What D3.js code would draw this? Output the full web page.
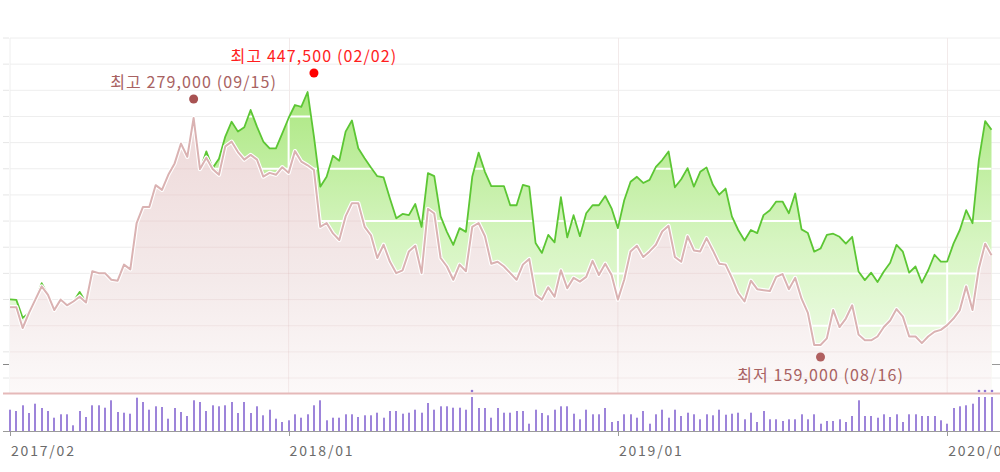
<!DOCTYPE html>
<html><head><meta charset="utf-8">
<script src="https://cdn.jsdelivr.net/npm/d3@7"></script>
<style>body{margin:0;background:#fff;overflow:hidden} svg{display:block}</style>
</head><body>
<svg id="c" width="1000" height="472"></svg>
<script>
// ---- data (weekly) ----
const pinkPrice = [179000,179000,168000,176000,183000,190000,185500,177500,183000,180000,
182000,184500,181500,198000,197000,197000,193500,193000,201500,199000,
223500,232000,232000,243500,241000,249000,255000,265500,258500,279000,
252000,258000,252000,249000,264000,266500,261000,257000,259500,257000,
248000,250000,249000,253000,250000,261500,256000,254000,251500,221500,
223500,218000,214500,227000,234000,234000,221500,217000,205000,212000,
203000,197000,198500,208500,211500,197000,231000,228500,205000,200500,
193500,201500,198000,221500,223500,216500,202000,203000,200500,197000,
193500,201500,204500,185500,183000,189500,184500,198500,189000,194500,
192500,195000,203500,196000,202000,196000,183000,193500,208500,211500,
205500,208500,212000,219000,222000,205500,203000,216500,209000,208500,
215500,209000,202000,201500,194500,186500,182000,193000,188500,188000,
187500,195000,196500,188500,194500,183500,176000,159000,159000,162500,
177500,168500,173000,180000,164500,161500,161500,163500,168500,172000,
178000,174000,163500,163500,160000,163500,166000,167000,169500,173000,
177500,190000,177500,199500,212500,206500];

const greenPrice = [280000,279500,265000,269000,279500,293000,283500,271500,279500,275000,
278000,286000,277500,302500,301000,301000,296000,295000,308000,304000,
341500,354500,354500,372000,368500,380500,390000,406000,395000,426500,
384500,399500,386000,393500,411500,423500,415500,419000,433000,419500,
407500,402000,402000,414000,426500,437000,435500,447500,411500,371000,
379000,396000,392000,415500,424500,402000,394000,386500,379500,378500,
361500,345500,349000,348000,357000,338500,382000,379500,347000,334500,
324000,337500,334500,379000,398500,383000,371500,371500,371500,356000,
356000,372500,371000,325500,317500,332000,326000,362500,330000,348000,
331000,349500,356000,356000,363500,353500,337500,360000,375000,379000,
374000,376500,387000,392500,399500,370500,377000,386000,371000,383000,
386500,372500,364500,369500,347000,336000,327500,336000,333500,348000,
352000,359000,359000,349500,365500,336500,333500,318500,321000,332000,
333000,330500,325000,330500,302500,295500,301500,294000,302500,309500,
324000,318500,301500,306500,293500,303500,316000,310500,310500,325000,
336000,352000,341500,392500,424000,417000];

const volume = [21300,20000,25700,18000,27300,23000,20000,13300,16700,16700,
5700,20000,14000,25700,25700,23300,30700,19000,18300,17300,
33300,29000,21300,24700,24000,12300,23000,19000,15000,30700,
29000,20000,25700,24700,25700,29000,18000,29000,18000,24700,
15700,21300,12300,9000,10700,16700,13300,16700,25700,30700,
10700,13300,13300,16700,16700,14000,15700,15700,18300,13300,
20000,20000,17300,18300,21300,18300,28000,21300,24700,24700,
23300,23300,21300,47000,23000,23000,13300,23000,18300,18300,
20000,20000,7300,21300,18000,15700,21300,24700,24700,17300,
11700,21300,16700,16700,23000,9000,10000,16700,16700,13300,
20000,7300,16700,21300,13300,21300,15000,18300,16700,11700,
16700,15700,21300,16300,17300,18300,11700,18300,9000,20000,
11700,11700,10000,11700,11700,16700,11700,16700,7300,10000,
10000,11700,9000,15000,30700,15000,15000,13300,16700,14000,
16700,9000,16700,16700,15000,15000,15000,10700,7300,23000,
24700,25700,27300,52000,58000,55000];

const tickLabels = ['2017/02','2018/01','2019/01','2020/01'];
const tickIndex = [0,44,96,148];

const annotations = [
  {series:'green', idx:48, value:447500, text:'최고 447,500 (02/02)', place:'above', color:'#ff1e1e', dot:'#ff0000'},
  {series:'pink',  idx:29, value:279000, text:'최고 279,000 (09/15)', place:'above', color:'#a86262', dot:'#a85252'},
  {series:'pink',  idx:128, value:159000, text:'최저 159,000 (08/16)', place:'below', color:'#a86262', dot:'#b06060'}
];

(function(){
const svg = d3.select('#c');
const n = pinkPrice.length;
const pTop = 38, pBottom = 393, left = 10, right = 991.5;
const x = d3.scaleLinear().domain([0, n-1]).range([left, right]);
const yPink = d3.scaleLinear().domain([133640, 321300]).range([pBottom, pTop]);
const yGreen = d3.scaleLinear().domain([204280, 491150]).range([pBottom, pTop]);
const volTop = 397, volBase = 431, volMax = 34000;
const yVol = d3.scaleLinear().domain([0, volMax]).range([volBase, volTop]).clamp(true);

const defs = svg.append('defs');
const gg = defs.append('linearGradient').attr('id','gGreen').attr('gradientUnits','userSpaceOnUse')
  .attr('x1',0).attr('x2',0).attr('y1',90).attr('y2',pBottom);
gg.append('stop').attr('offset',0).attr('stop-color','#abe780');
gg.append('stop').attr('offset',0.5).attr('stop-color','#d6f5c1');
gg.append('stop').attr('offset',1).attr('stop-color','#f6fdf2');
const gp = defs.append('linearGradient').attr('id','gPink').attr('gradientUnits','userSpaceOnUse')
  .attr('x1',0).attr('x2',0).attr('y1',110).attr('y2',pBottom);
gp.append('stop').attr('offset',0).attr('stop-color','#eed8d8');
gp.append('stop').attr('offset',0.6).attr('stop-color','#f4eaea');
gp.append('stop').attr('offset',1).attr('stop-color','#fcf9f9');

const idx = d3.range(n);
const areaG = d3.area().x(i=>x(i)).y0(pBottom).y1(i=>yGreen(greenPrice[i]));
const lineG = d3.line().x(i=>x(i)).y(i=>yGreen(greenPrice[i]));
const areaP = d3.area().x(i=>x(i)).y0(pBottom).y1(i=>yPink(pinkPrice[i]));
const lineP = d3.line().x(i=>x(i)).y(i=>yPink(pinkPrice[i]));

defs.append('clipPath').attr('id','clipG').append('path').attr('d', areaG(idx));
defs.append('clipPath').attr('id','clipP').append('path').attr('d', areaP(idx));

const gridN = 14, gridStep = (378 - pTop) / (gridN - 1);
const gridY = d3.range(gridN).map(k => pTop + k*gridStep);

svg.append('g').selectAll('line').data(gridY).join('line')
  .attr('x1', left).attr('x2', 1000).attr('y1', d=>d).attr('y2', d=>d)
  .attr('stroke', '#eeeeee').attr('stroke-width', 1);
svg.append('line').attr('x1', left).attr('x2', left).attr('y1', pTop).attr('y2', pBottom)
  .attr('stroke', '#eeeeee');
svg.append('g').selectAll('line').data(tickIndex.slice(1)).join('line')
  .attr('x1', d=>Math.round(x(d))+0.5).attr('x2', d=>Math.round(x(d))+0.5).attr('y1', pTop).attr('y2', pBottom)
  .attr('stroke', '#f2eaea');
svg.append('g').selectAll('line').data(gridY).join('line')
  .attr('x1', 3).attr('x2', 9).attr('y1', d=>d).attr('y2', d=>d)
  .attr('stroke', '#e6e6e6');

svg.append('path').attr('d', areaG(idx)).attr('fill', 'url(#gGreen)');
const wg = svg.append('g').attr('clip-path','url(#clipG)');
wg.selectAll('line.h').data(gridY.filter((d,k)=>k%2===1)).join('line')
  .attr('x1', left).attr('x2', 1000).attr('y1', d=>d).attr('y2', d=>d)
  .attr('stroke', '#ffffff').attr('stroke-width', 2);
wg.selectAll('line.v').data(tickIndex.slice(1)).join('line')
  .attr('x1', d=>x(d)).attr('x2', d=>x(d)).attr('y1', pTop).attr('y2', pBottom)
  .attr('stroke', '#ffffff').attr('stroke-width', 2);
svg.append('path').attr('d', lineG(idx)).attr('fill','none')
  .attr('stroke', '#5cc634').attr('stroke-width', 1.8).attr('stroke-linejoin','round');

svg.append('path').attr('d', areaP(idx)).attr('fill', 'url(#gPink)');
const pg = svg.append('g').attr('clip-path','url(#clipP)');
pg.selectAll('line').data(gridY).join('line')
  .attr('x1', left).attr('x2', 1000).attr('y1', d=>d).attr('y2', d=>d)
  .attr('stroke', 'rgba(205,160,160,0.16)');
pg.selectAll('line.v').data(tickIndex.slice(1)).join('line')
  .attr('x1', d=>x(d)).attr('x2', d=>x(d)).attr('y1', pTop).attr('y2', pBottom)
  .attr('stroke', 'rgba(205,160,160,0.18)');
svg.append('path').attr('d', lineP(idx)).attr('fill','none')
  .attr('stroke', '#ffffff').attr('stroke-width', 4.2).attr('stroke-linejoin','round');
svg.append('path').attr('d', lineP(idx)).attr('fill','none')
  .attr('stroke', '#dab2b2').attr('stroke-width', 2).attr('stroke-linejoin','round');

svg.append('line').attr('x1', 3).attr('x2', 1000).attr('y1', pBottom+0.5).attr('y2', pBottom+0.5)
  .attr('stroke', '#e5b9b9').attr('stroke-width', 2);
svg.append('line').attr('x1',3).attr('x2',9).attr('y1',364.5).attr('y2',364.5).attr('stroke','#888');
svg.append('line').attr('x1',992).attr('x2',1000).attr('y1',364.5).attr('y2',364.5).attr('stroke','#999');

svg.append('g').selectAll('rect').data(idx).join('rect')
  .attr('x', i=>Math.round(x(i))-1).attr('width', 2)
  .attr('y', i=>yVol(volume[i])).attr('height', i=>volBase - yVol(volume[i]))
  .attr('fill', '#9d84da');
svg.append('g').selectAll('circle').data(idx.filter(i=>volume[i]>volMax)).join('circle')
  .attr('cx', i=>Math.round(x(i))).attr('cy', volTop-6).attr('r', 1.3).attr('fill', '#8f74d2');
svg.append('line').attr('x1', 3).attr('x2', 1000).attr('y1', volBase+0.5).attr('y2', volBase+0.5)
  .attr('stroke', '#9a9a9a');
svg.append('g').selectAll('line').data(tickIndex).join('line')
  .attr('x1', d=>Math.round(x(d))+0.5).attr('x2', d=>Math.round(x(d))+0.5)
  .attr('y1', volBase).attr('y2', volBase+5).attr('stroke', '#9a9a9a');
svg.append('g').selectAll('text').data(tickIndex).join('text')
  .attr('x', d=>x(d)+1).attr('y', 456)
  .attr('font-family', "'Noto Sans CJK KR', 'Noto Sans', sans-serif")
  .attr('font-size', 14).attr('letter-spacing', 1.8).attr('fill', '#6b6b6b')
  .text((d,k)=>tickLabels[k]);

annotations.forEach(a=>{
  const ys = a.series === 'green' ? yGreen : yPink;
  const px = x(a.idx), py = ys(a.value);
  const dy = a.place === 'above' ? -19 : 12;
  svg.append('circle').attr('cx', px).attr('cy', py+dy).attr('r', 4.5).attr('fill', a.dot);
  svg.append('text').attr('x', px).attr('y', a.place === 'above' ? py+dy-11 : py+dy+24)
    .attr('text-anchor','middle')
    .attr('font-family', "'Noto Sans CJK KR', sans-serif")
    .attr('font-size', 16).attr('letter-spacing', 1.1).attr('fill', a.color)
    .text(a.text);
});
})();
</script>
</body></html>
